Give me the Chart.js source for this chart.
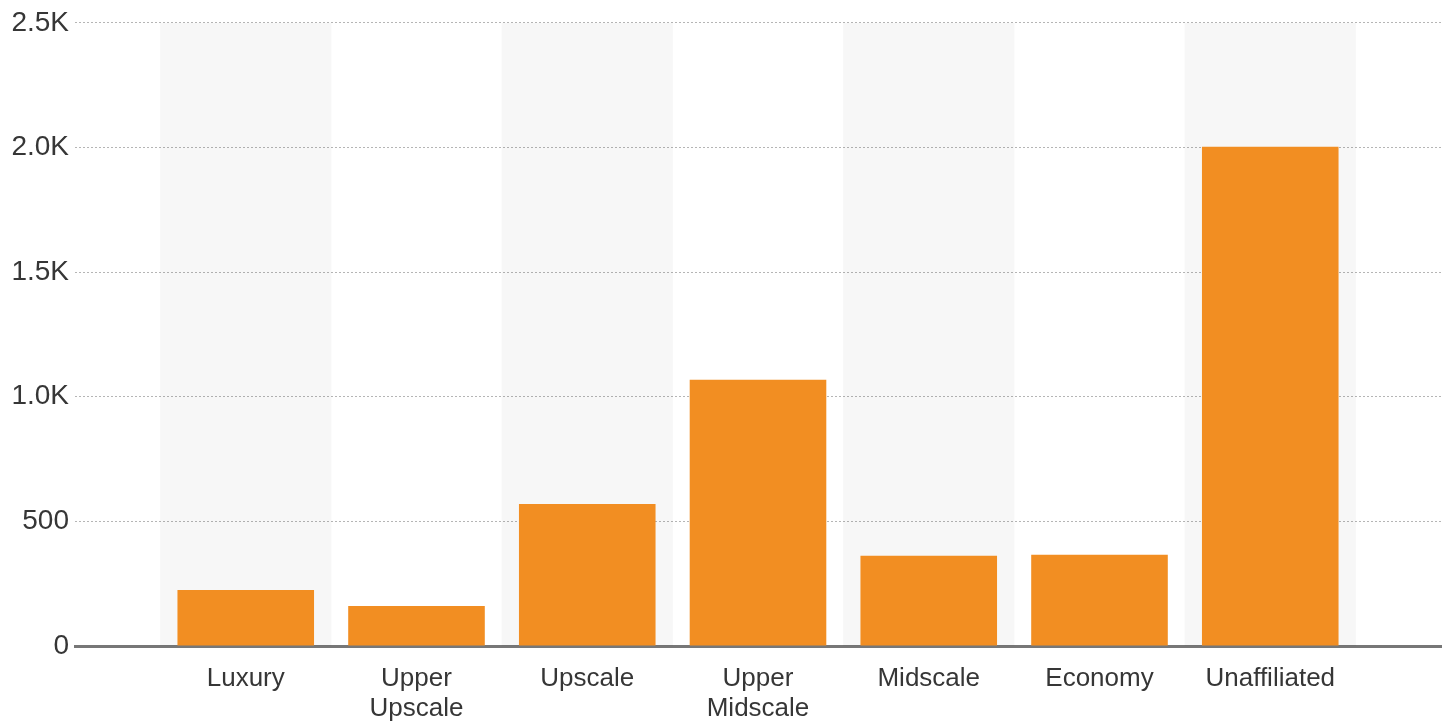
<!DOCTYPE html>
<html>
<head>
<meta charset="utf-8">
<script src="https://cdn.jsdelivr.net/npm/chart.js@4.4.1/dist/chart.umd.min.js"></script>
<style>
  html, body { margin: 0; padding: 0; background: #ffffff; }
  #wrap { width: 1450px; height: 726px; }
</style>
</head>
<body>
<div id="wrap"><canvas id="c" width="1450" height="726"></canvas></div>
<script>
const categories = ['Luxury', ['Upper', 'Upscale'], 'Upscale', ['Upper', 'Midscale'], 'Midscale', 'Economy', 'Unaffiliated'];
const values = [225, 160, 570, 1068, 362, 366, 2003];
const shaded = [true, false, true, false, true, false, true];
const yTicks = [0, 500, 1000, 1500, 2000, 2500];
const yTickLabels = ['0', '500', '1.0K', '1.5K', '2.0K', '2.5K'];

const yMax = yTicks[yTicks.length - 1];
// half-category padding on each side via empty slots
const labels = [''].concat(categories, ['']);
const barData = [null].concat(values, [null]);
const bandData = [null].concat(shaded.map(s => s ? yMax : null), [null]);

const FONT = "'Liberation Sans', Arial, sans-serif";

new Chart(document.getElementById('c'), {
  type: 'bar',
  data: {
    labels: labels,
    datasets: [
      {
        label: 'Value',
        data: barData,
        backgroundColor: '#f28e22',
        borderWidth: 0,
        barPercentage: 0.8,
        categoryPercentage: 1,
        grouped: false,
        order: 1
      },
      {
        label: 'Band',
        data: bandData,
        backgroundColor: 'rgba(0,0,0,0.032)',
        borderWidth: 0,
        barPercentage: 1,
        categoryPercentage: 1,
        grouped: false,
        order: 2
      }
    ]
  },
  options: {
    responsive: false,
    animation: false,
    layout: { padding: { top: 22, right: 9, left: 0, bottom: 0 } },
    plugins: { legend: { display: false }, tooltip: { enabled: false } },
    scales: {
      x: {
        type: 'category',
        offset: false,
        grid: { display: false, offset: false, drawTicks: false },
        border: { display: true, color: '#777777', width: 3 },
        ticks: {
          autoSkip: false,
          maxRotation: 0,
          padding: 18,
          color: '#363636',
          font: { family: FONT, size: 26, lineHeight: 1.15 }
        },
        afterFit: (s) => { s.height = 80; s.paddingLeft = 0; s.paddingRight = 0; }
      },
      y: {
        min: 0,
        max: yMax,
        afterBuildTicks: (s) => { s.ticks = yTicks.map(v => ({ value: v })); },
        grid: { color: '#b5b5b5', lineWidth: 1, drawTicks: false },
        border: { display: false, dash: [2, 2] },
        ticks: {
          padding: 6,
          color: '#363636',
          font: { family: FONT, size: 28 },
          callback: (v) => { const i = yTicks.indexOf(v); return i >= 0 ? yTickLabels[i] : ''; }
        },
        afterFit: (s) => { s.width = 75; }
      }
    }
  }
});
</script>
</body>
</html>
